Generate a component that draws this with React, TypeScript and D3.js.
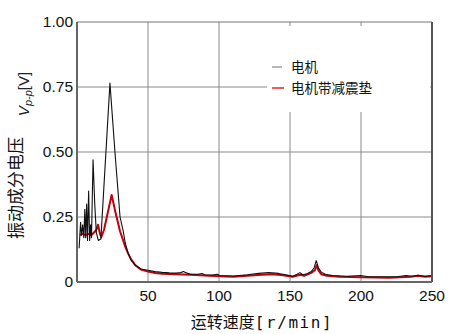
import React from 'react'
import * as d3 from 'd3'

// speed [r/min] and Vp-p [V]
const motorSpeed = [1.5, 2.5, 3.2, 4.0, 4.8, 5.5, 6.1, 6.8, 7.4, 8.2, 8.9, 9.6, 10.2, 11.3, 12.5, 13.6, 15, 16.8, 23.2, 27, 30.3, 32.4, 34, 36, 38, 41, 45, 50, 55, 60, 65, 70, 73, 75, 77, 80, 85, 88, 90, 95, 99, 100, 110, 120, 128, 135, 142, 148, 152, 155, 157, 159, 162, 165, 167, 168.5, 170, 172, 175, 180, 190, 200, 205, 215, 225, 232, 236, 240, 245, 250]
const motorV = [0.13, 0.23, 0.18, 0.22, 0.17, 0.28, 0.17, 0.30, 0.16, 0.35, 0.16, 0.22, 0.17, 0.47, 0.30, 0.19, 0.16, 0.165, 0.765, 0.48, 0.25, 0.2, 0.15, 0.11, 0.085, 0.065, 0.05, 0.045, 0.04, 0.037, 0.035, 0.034, 0.036, 0.04, 0.035, 0.03, 0.03, 0.033, 0.028, 0.027, 0.03, 0.025, 0.023, 0.028, 0.033, 0.036, 0.033, 0.027, 0.022, 0.03, 0.036, 0.028, 0.032, 0.04, 0.055, 0.082, 0.055, 0.038, 0.03, 0.025, 0.022, 0.025, 0.02, 0.02, 0.02, 0.025, 0.022, 0.026, 0.022, 0.025]

const padSpeed = [2, 4, 6, 8, 10, 12, 13.5, 14.8, 16, 17, 19, 21, 24.4, 27, 30.3, 32.5, 34, 36, 38, 41, 45, 50, 55, 60, 70, 80, 90, 100, 110, 120, 130, 138, 145, 152, 157, 160, 165, 167.5, 168.8, 170, 172, 176, 185, 200, 220, 235, 240, 245, 250]
const padV = [0.18, 0.185, 0.18, 0.185, 0.18, 0.19, 0.2, 0.22, 0.19, 0.172, 0.2, 0.25, 0.335, 0.27, 0.195, 0.16, 0.135, 0.11, 0.088, 0.065, 0.048, 0.04, 0.035, 0.032, 0.03, 0.028, 0.025, 0.022, 0.02, 0.024, 0.028, 0.03, 0.026, 0.02, 0.028, 0.024, 0.035, 0.045, 0.065, 0.045, 0.03, 0.024, 0.02, 0.018, 0.016, 0.02, 0.024, 0.02, 0.022]

const xTicks = [50, 100, 150, 200, 250]
const yTicks = [0, 0.25, 0.5, 0.75, 1]
const yTickLabels = ['0', '0.25', '0.50', '0.75', '1.00']
const seriesNames = ['电机', '电机带减震垫']

export default function App() {
  const x = d3.scaleLinear().domain([0, 250]).range([77, 432])
  const y = d3.scaleLinear().domain([0, 1]).range([282, 22])

  const getLine = d3.line<[number, number]>()
    .x(d => x(d[0]))
    .y(d => y(d[1]))

  const motor = motorSpeed.map((s, i) => [s, motorV[i]] as [number, number])
  const pad = padSpeed.map((s, i) => [s, padV[i]] as [number, number])

  const font = 'Liberation Sans, Arial, sans-serif'
  const cjk = '"Noto Sans CJK SC", sans-serif'

  return (
    <svg width={450} height={334} style={{ position: 'absolute', left: 0, top: 0, background: '#fff' }}>
      {/* grid */}
      {xTicks.slice(0, -1).map(t => (
        <line key={'gx' + t} x1={x(t)} x2={x(t)} y1={y(0)} y2={y(1)} stroke="#8a8a8a" strokeWidth={1} />
      ))}
      {yTicks.slice(1, -1).map(t => (
        <line key={'gy' + t} x1={x(0)} x2={x(250)} y1={y(t)} y2={y(t)} stroke="#8a8a8a" strokeWidth={1} />
      ))}

      {/* legend background */}
      <rect x={267} y={26} width={163} height={86} fill="#fff" />

      {/* curves */}
      <path d={getLine(pad) ?? ''} fill="none" stroke="#c0000c" strokeWidth={2} strokeLinejoin="round" />
      <path d={getLine(motor) ?? ''} fill="none" stroke="#111" strokeWidth={1.1} strokeLinejoin="round" />

      {/* frame */}
      <line x1={x(0)} x2={x(250)} y1={y(1)} y2={y(1)} stroke="#777" strokeWidth={1.2} />
      <line x1={x(250)} x2={x(250)} y1={y(1)} y2={y(0)} stroke="#555" strokeWidth={2} />
      <line x1={x(0)} x2={x(0)} y1={y(1)} y2={y(0)} stroke="#666" strokeWidth={2} />
      <line x1={x(0)} x2={x(250)} y1={y(0)} y2={y(0)} stroke="#666" strokeWidth={2} />

      {/* tick labels */}
      {yTicks.map((t, i) => (
        <text key={'yt' + t} x={73} y={y(t)} dy="0.35em" textAnchor="end" fontFamily={font} fontSize={15.5} fill="#111">
          {yTickLabels[i]}
        </text>
      ))}
      {xTicks.map(t => (
        <text key={'xt' + t} x={x(t)} y={296} dy="0.35em" textAnchor="middle" fontFamily={font} fontSize={15.5} fill="#111">
          {t}
        </text>
      ))}

      {/* axis titles */}
      <text x={262} y={328} textAnchor="middle" fontSize={16} fill="#111">
        <tspan fontFamily={cjk}>运转速度</tspan>
        <tspan fontFamily="DejaVu Sans Mono, monospace" letterSpacing={1.6}>[r/min]</tspan>
      </text>
      <text transform="translate(22,188) rotate(-90)" textAnchor="middle" fontFamily={cjk} fontSize={17} fill="#111">
        振动成分电压
      </text>
      <text transform="translate(29,94) rotate(-90)" textAnchor="middle" fontFamily={font} fontSize={15} fill="#222">
        <tspan fontStyle="italic">V</tspan>
        <tspan fontStyle="italic" fontSize={11} dy={3}>p-p</tspan>
        <tspan dy={-3}>[V]</tspan>
      </text>

      {/* legend */}
      <line x1={272} x2={282} y1={67} y2={67} stroke="#888" strokeWidth={1.2} />
      <text x={291} y={67} dy="0.35em" fontFamily={cjk} fontSize={13.5} fill="#111">{seriesNames[0]}</text>
      <line x1={272} x2={284} y1={88} y2={88} stroke="#e8242c" strokeWidth={1.5} />
      <text x={291} y={88} dy="0.35em" fontFamily={cjk} fontSize={13.5} fill="#111">{seriesNames[1]}</text>
    </svg>
  )
}
